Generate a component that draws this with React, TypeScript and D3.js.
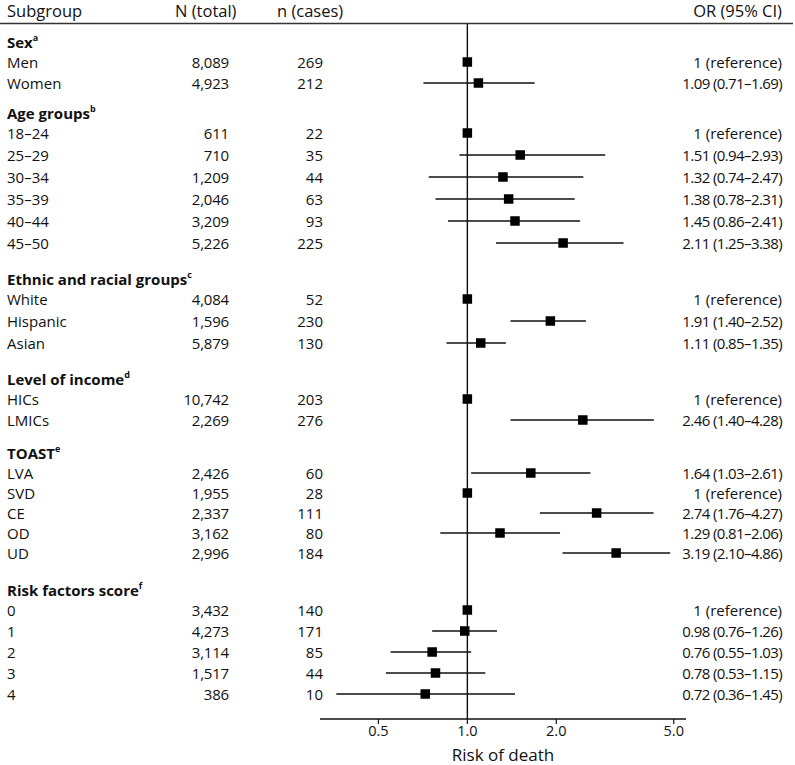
import React from "react";
import * as d3 from "d3";

// ---- data ----
const groupNames = ["Sex", "Age groups", "Ethnic and racial groups", "Level of income", "TOAST", "Risk factors score"];
const groupNotes = ["a", "b", "c", "d", "e", "f"];
const groupSizes = [2, 6, 3, 2, 5, 5];

const subgroups = [
  "Men", "Women",
  "18–24", "25–29", "30–34", "35–39", "40–44", "45–50",
  "White", "Hispanic", "Asian",
  "HICs", "LMICs",
  "LVA", "SVD", "CE", "OD", "UD",
  "0", "1", "2", "3", "4",
];
const nTotal = [8089, 4923, 611, 710, 1209, 2046, 3209, 5226, 4084, 1596, 5879, 10742, 2269, 2426, 1955, 2337, 3162, 2996, 3432, 4273, 3114, 1517, 386];
const nCases = [269, 212, 22, 35, 44, 63, 93, 225, 52, 230, 130, 203, 276, 60, 28, 111, 80, 184, 140, 171, 85, 44, 10];
const orValue = [1, 1.09, 1, 1.51, 1.32, 1.38, 1.45, 2.11, 1, 1.91, 1.11, 1, 2.46, 1.64, 1, 2.74, 1.29, 3.19, 1, 0.98, 0.76, 0.78, 0.72];
const ciLow: (number | null)[] = [null, 0.71, null, 0.94, 0.74, 0.78, 0.86, 1.25, null, 1.4, 0.85, null, 1.4, 1.03, null, 1.76, 0.81, 2.1, null, 0.76, 0.55, 0.53, 0.36];
const ciHigh: (number | null)[] = [null, 1.69, null, 2.93, 2.47, 2.31, 2.41, 3.38, null, 2.52, 1.35, null, 4.28, 2.61, null, 4.27, 2.06, 4.86, null, 1.26, 1.03, 1.15, 1.45];

const tickValues = [0.5, 1.0, 2.0, 5.0];
const tickLabels = ["0.5", "1.0", "2.0", "5.0"];
const headers = ["Subgroup", "N (total)", "n (cases)", "OR (95% CI)"];
const axisTitle = "Risk of death";

// ---- layout (not data) ----
const W = 795;
const H = 765;
const FONT = "'Open Sans', 'Noto Sans', sans-serif";
const firstHeadingY = 42;
const headingToRow = 20;
const groupGapBefore = [0, 30, 36, 36, 33, 37];
const groupStep = [21, 22, 22, 21, 20, 21];
const axisY = 719;

export default function App() {
  const x = d3.scaleLog().domain([0.317, 5.5]).range([320, 686]);
  const fmtN = d3.format(",");
  const f2 = d3.format(".2f");

  const headingYs: number[] = [];
  const rowYs: number[] = [];
  let y = firstHeadingY;
  groupSizes.forEach((size, g) => {
    if (g > 0) y = rowYs[rowYs.length - 1] + groupGapBefore[g];
    headingYs.push(y);
    let ry = y + headingToRow;
    for (let i = 0; i < size; i++) {
      rowYs.push(ry);
      ry += groupStep[g];
    }
  });

  const x1 = x(1);

  return (
    <svg
      width={W}
      height={H}
      style={{ position: "absolute", left: 0, top: 0, display: "block", background: "#fff" }}
      fontFamily={FONT}
    >
      {/* header */}
      <g fontSize={16.5} fill="#111" dominantBaseline="central">
        <text x={7} y={10}>{headers[0]}</text>
        <text x={175} y={10}>{headers[1]}</text>
        <text x={277} y={10}>{headers[2]}</text>
        <text x={782} y={10} textAnchor="end">{headers[3]}</text>
      </g>
      <line x1={0} x2={793} y1={23.5} y2={23.5} stroke="#333" strokeWidth={1.6} />

      {/* reference line */}
      <line x1={x1} x2={x1} y1={24} y2={axisY} stroke="#111" strokeWidth={1.4} />

      {/* group headings */}
      <g fontSize={15} fontWeight="bold" fill="#111">
        {groupNames.map((name, g) => (
          <text key={name} x={7} y={headingYs[g]} dominantBaseline="central">
            {name}
            <tspan fontSize={9} dy={-5}>{groupNotes[g]}</tspan>
          </text>
        ))}
      </g>

      {/* rows */}
      <g fontSize={15} fill="#111">
        {subgroups.map((s, i) => {
          const lo = ciLow[i];
          const hi = ciHigh[i];
          const isRef = lo === null || hi === null;
          const label = isRef ? "1 (reference)" : `${f2(orValue[i])} (${f2(lo as number)}–${f2(hi as number)})`;
          const ry = rowYs[i];
          return (
            <g key={i}>
              <text x={7} y={ry} dominantBaseline="central">{s}</text>
              <text x={229} y={ry} textAnchor="end" dominantBaseline="central" letterSpacing={-0.2}>{fmtN(nTotal[i])}</text>
              <text x={323} y={ry} textAnchor="end" dominantBaseline="central">{nCases[i]}</text>
              {!isRef && (
                <line x1={x(lo as number)} x2={x(hi as number)} y1={ry} y2={ry} stroke="#111" strokeWidth={1.3} />
              )}
              <rect x={x(orValue[i]) - 4.75} y={ry - 4.75} width={9.5} height={9.5} fill="#000" />
              <text x={782} y={ry} textAnchor="end" dominantBaseline="central" letterSpacing={isRef ? 0 : -0.6}>{label}</text>
            </g>
          );
        })}
      </g>

      {/* axis */}
      <line x1={320} x2={686} y1={axisY} y2={axisY} stroke="#111" strokeWidth={1.4} />
      <g fontSize={14.5} fill="#111">
        {tickValues.map((t, i) => (
          <g key={t}>
            <line x1={x(t)} x2={x(t)} y1={axisY} y2={axisY + 5} stroke="#111" strokeWidth={1.2} />
            <text x={x(t)} y={axisY + 11} textAnchor="middle" dominantBaseline="central">{tickLabels[i]}</text>
          </g>
        ))}
      </g>
      <text x={(320 + 686) / 2} y={754} fontSize={17} fill="#111" textAnchor="middle" dominantBaseline="central">
        {axisTitle}
      </text>
    </svg>
  );
}
